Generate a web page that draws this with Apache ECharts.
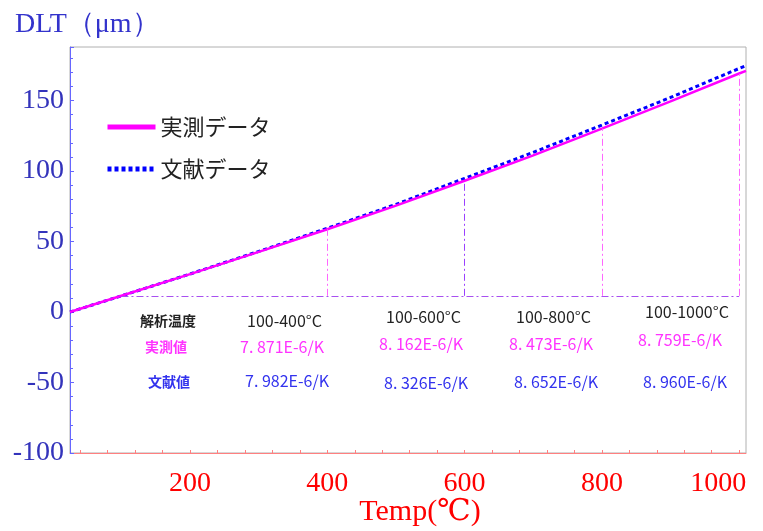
<!DOCTYPE html>
<html>
<head>
<meta charset="utf-8">
<script src="https://cdn.jsdelivr.net/npm/echarts@6/dist/echarts.min.js"></script>
<style>
  html, body { margin: 0; padding: 0; background: #fff; }
  #chart { width: 763px; height: 531px; }
</style>
</head>
<body>
<div id="chart"></div>
<script>
    // temperatures (°C) and DLT (μm)
    const temps = [25, 100, 200, 300, 400, 500, 600, 700, 800, 900, 1000, 1010];
    const measured = [0, 11.5, 26.9, 42.7, 58.7, 75.5, 93.1, 111.1, 130.1, 149.4, 169.2, 171.1];
    const literature = [0, 11.5, 27.0, 43.0, 59.4, 76.4, 94.8, 113.3, 132.6, 152.2, 172.8, 174.8];

    // x tick labels and minor tick positions
    const xLabels = [200, 400, 600, 800, 1000];
    const xTicks = [40, 80, 120, 160, 200, 240, 280, 320, 360, 400, 440, 480, 520, 560, 600,
        640, 680, 720, 760, 800, 840, 880, 920, 960, 1000];

    // analysis ranges: dash-dot guides from 100°C base to the curve
    const baseTemp = 100;
    const baseDLT = 11.5;
    const rangeEnds = [400, 600, 800, 1000];
    const rangeTops = [58.7, 93.1, 130.1, 169.2];
    const rangeColors = ['#ff66ff', '#9a40ff', '#ff66ff', '#ff66ff'];

    const rangeLabels = ['100-400°C', '100-600°C', '100-800°C', '100-1000°C'];
    const measuredCTE = ['7. 871E-6/K', '8. 162E-6/K', '8. 473E-6/K', '8. 759E-6/K'];
    const literatureCTE = ['7. 982E-6/K', '8. 326E-6/K', '8. 652E-6/K', '8. 960E-6/K'];

    const serif = '"Liberation Serif", "DejaVu Serif", serif';
    const jp = '"Noto Sans CJK JP", sans-serif';

    const chart = echarts.init(document.getElementById('chart'));

    let guides = rangeEnds.map((t, i) => [
        {coord: [t, baseDLT], lineStyle: {color: rangeColors[i]}},
        {coord: [t, rangeTops[i]]}
    ]);
    guides.push([
        {coord: [baseTemp, baseDLT], lineStyle: {color: '#a850f0'}},
        {coord: [rangeEnds[rangeEnds.length - 1], baseDLT]}
    ]);

    // table text under the curves
    const colX = [247, 386, 516, 645];
    const rowY = [[313, 309, 309, 304], [339, 336, 336, 332], [373, 375, 374, 374]];
    let table = [
        {type: 'text', left: 140, top: 314, style: {text: '解析温度', fill: '#222', font: 'bold 14px ' + jp}},
        {type: 'text', left: 145, top: 340, style: {text: '実測値', fill: '#ff33ff', font: 'bold 14px ' + jp}},
        {type: 'text', left: 148, top: 375, style: {text: '文献値', fill: '#3333ee', font: 'bold 14px ' + jp}}
    ];
    rangeLabels.forEach((s, i) => {
        table.push({type: 'text', left: colX[i], top: rowY[0][i], style: {text: s, fill: '#222', font: '16px ' + jp}});
        table.push({type: 'text', left: colX[i] - 7, top: rowY[1][i], style: {text: measuredCTE[i], fill: '#ff33ff', font: '16px ' + jp}});
        table.push({type: 'text', left: colX[i] - 2, top: rowY[2][i], style: {text: literatureCTE[i], fill: '#3333ee', font: '16px ' + jp}});
    });

    chart.setOption({
        animation: false,
        title: {
            text: 'DLT（μm）', left: 10, top: 6,
            textStyle: {color: '#3333cc', fontFamily: serif, fontSize: 28, fontWeight: 'normal'}
        },
        legend: {
            data: ['実測データ', '文献データ'],
            orient: 'vertical', left: 100, top: 111,
            itemWidth: 48, itemHeight: 14, itemGap: 20,
            itemStyle: {opacity: 0},
            lineStyle: {width: 5},
            textStyle: {color: '#222', fontSize: 22, fontFamily: jp}
        },
        grid: {
            left: 70, right: 17, top: 47, bottom: 78, outerBoundsMode: 'none',
            show: true, borderColor: '#b0b0b0', borderWidth: 1
        },
        xAxis: {
            type: 'value', min: 25, max: 1010,
            name: 'Temp(℃)', nameLocation: 'middle', nameGap: 44, nameMoveOverlap: false,
            nameTextStyle: {color: '#ff0000', fontFamily: serif, fontSize: 30, padding: [0, 0, 0, 24]},
            axisLine: {onZero: false, lineStyle: {color: '#ff8080', width: 1}},
            axisTick: {show: true, inside: true, length: 3, customValues: xTicks, lineStyle: {color: '#ff8080'}},
            splitLine: {show: false},
            axisLabel: {
                color: '#ff0000', fontFamily: serif, fontSize: 28, margin: 17,
                customValues: xLabels,
                formatter: v => v === 1000 ? '{r|1000}' : String(v),
                rich: {r: {color: '#ff0000', fontFamily: serif, fontSize: 28, padding: [0, 42, 0, 0]}}
            }
        },
        yAxis: {
            type: 'value', min: -100, max: 188, interval: 50,
            axisLine: {show: true, onZero: false, lineStyle: {color: '#6666ff', width: 1}},
            axisTick: {show: true, inside: true, length: 4, lineStyle: {color: '#6666ff'}},
            minorTick: {show: true, splitNumber: 5, length: 3, lineStyle: {color: '#6666ff'}},
            splitLine: {show: false},
            axisLabel: {color: '#3333bb', fontFamily: serif, fontSize: 28, margin: 6, showMaxLabel: false}
        },
        graphic: table,
        series: [
            {
                name: '文献データ', type: 'line', symbol: 'none',
                data: temps.map((t, i) => [t, literature[i]]),
                lineStyle: {color: '#0000ff', width: 3, type: [4, 3]},
                itemStyle: {color: '#0000ff'}
            },
            {
                name: '実測データ', type: 'line', symbol: 'none',
                data: temps.map((t, i) => [t, measured[i]]),
                lineStyle: {color: '#ff00ff', width: 2.5},
                itemStyle: {color: '#ff00ff'},
                markLine: {
                    silent: true, symbol: 'none', label: {show: false},
                    lineStyle: {width: 1, type: [7, 3, 2, 3]},
                    data: guides
                }
            }
        ]
    });
</script>
</body>
</html>
